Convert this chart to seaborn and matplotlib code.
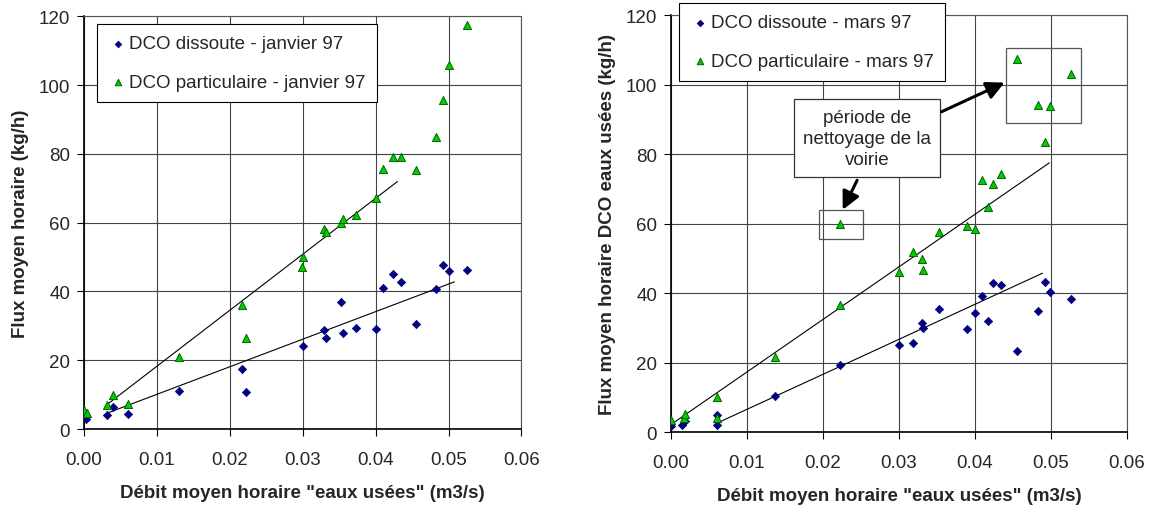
"""
Flux moyen horaire de DCO en fonction du debit "eaux usees" (janvier / mars 97).
"""

import matplotlib
matplotlib.use('Agg')

import matplotlib.pyplot as plt
import numpy as np
import seaborn as sns

# --- janvier 97 ---
jan_dis_x = [0.0000, 0.0003, 0.0031, 0.0040, 0.0061, 0.0130, 0.0217, 0.0222, 0.0300,
             0.0329, 0.0332, 0.0353, 0.0355, 0.0373, 0.0400, 0.0410, 0.0424, 0.0435,
             0.0456, 0.0483, 0.0492, 0.0500, 0.0526]
jan_dis_y = [3.9, 2.9, 4.2, 6.3, 4.3, 11.1, 17.4, 10.8, 24.2,
             28.7, 26.6, 36.8, 28.0, 29.3, 29.2, 41.0, 45.0, 42.8,
             30.5, 40.8, 47.8, 45.9, 46.2]
jan_par_x = [0.0000, 0.0004, 0.0031, 0.0040, 0.0061, 0.0130, 0.0217, 0.0222, 0.0300,
             0.0299, 0.0329, 0.0332, 0.0353, 0.0355, 0.0373, 0.0400, 0.0410, 0.0424,
             0.0435, 0.0456, 0.0483, 0.0492, 0.0500, 0.0526]
jan_par_y = [5.5, 4.8, 7.0, 9.9, 7.3, 21.0, 36.0, 26.5, 49.9,
             47.1, 58.1, 57.4, 59.9, 61.2, 62.2, 67.1, 75.6, 79.2,
             79.2, 75.4, 85.0, 95.6, 105.8, 117.4]

# droites de tendance (pente, ordonnee, x debut, x fin)
jan_dis_fit = (801.0, 2.1, 0.0031, 0.0508)
jan_par_fit = (1627.0, 2.0, 0.0031, 0.0430)

# --- mars 97 ---
mar_dis_x = [0.0000, 0.0015, 0.0018, 0.0060, 0.0060, 0.0137, 0.0222, 0.0300, 0.0318,
             0.0330, 0.0332, 0.0353, 0.0390, 0.0400, 0.0409, 0.0417, 0.0424, 0.0435,
             0.0456, 0.0483, 0.0492, 0.0499, 0.0526]
mar_dis_y = [1.9, 2.1, 3.2, 5.0, 2.0, 10.4, 19.4, 25.0, 25.7,
             31.3, 30.0, 35.5, 29.8, 34.4, 39.3, 32.1, 42.8, 42.3,
             23.4, 35.0, 43.1, 40.2, 38.4]
mar_par_x = [0.0000, 0.0017, 0.0018, 0.0060, 0.0060, 0.0137, 0.0222, 0.0222, 0.0300,
             0.0318, 0.0330, 0.0332, 0.0353, 0.0390, 0.0400, 0.0409, 0.0417, 0.0424,
             0.0435, 0.0456, 0.0483, 0.0492, 0.0499, 0.0526]
mar_par_y = [3.5, 4.1, 5.3, 10.1, 4.0, 21.6, 36.5, 59.8, 46.0,
             51.8, 49.7, 46.8, 57.7, 59.3, 58.5, 72.7, 64.7, 71.3,
             74.4, 107.3, 94.1, 83.5, 93.8, 103.2]

mar_dis_fit = (1007.0, -3.5, 0.0060, 0.0489)
mar_par_fit = (1512.0, 2.2, 0.0000, 0.0498)

x_ticks = [0.00, 0.01, 0.02, 0.03, 0.04, 0.05, 0.06]
y_ticks = [0, 20, 40, 60, 80, 100, 120]

BLUE = '#000080'
GREEN = '#00CC00'
GREEN_EDGE = '#006400'
FS = 13.5

sns.set_theme(style='white')
plt.rcParams['font.family'] = ['Liberation Sans', 'DejaVu Sans']


def draw_panel(ax, dis_x, dis_y, par_x, par_y, dis_fit, par_fit, month, ylabel):
    sns.scatterplot(x=dis_x, y=dis_y, marker='D', s=18, color=BLUE, edgecolor=BLUE,
                    linewidth=0.5, ax=ax, zorder=4, label=f'DCO dissoute - {month} 97')
    sns.scatterplot(x=par_x, y=par_y, marker='^', s=34, color=GREEN, edgecolor=GREEN_EDGE,
                    linewidth=0.7, ax=ax, zorder=4, label=f'DCO particulaire - {month} 97')

    for slope, icpt, x0, x1 in (dis_fit, par_fit):
        xs = np.array([x0, x1])
        ax.plot(xs, slope * xs + icpt, color='black', lw=0.8, zorder=3)

    ax.set_xlim(0, 0.06)
    ax.set_ylim(0, 120)
    ax.set_xticks(x_ticks)
    ax.set_yticks(y_ticks)
    ax.set_xticklabels([f'{v:.2f}' for v in x_ticks], fontsize=FS)
    ax.set_yticklabels([str(v) for v in y_ticks], fontsize=FS)
    ax.grid(True, color='#444444', lw=0.8)
    ax.set_axisbelow(True)
    ax.tick_params(direction='out', length=5, width=0.8, color='black',
                   bottom=True, left=True)
    ax.tick_params(axis='x', pad=11)
    ax.tick_params(axis='y', pad=5)
    for side in ('top', 'right'):
        ax.spines[side].set_color('#555555')
        ax.spines[side].set_linewidth(0.8)
    for side in ('left', 'bottom'):
        ax.spines[side].set_color('black')
        ax.spines[side].set_linewidth(1.2)
    ax.set_xlabel('Débit moyen horaire "eaux usées" (m3/s)', fontsize=FS,
                  fontweight='bold', labelpad=11)
    ax.set_ylabel(ylabel, fontsize=FS, fontweight='bold', labelpad=7)


fig = plt.figure(figsize=(11.51, 5.06), dpi=100)
ax1 = fig.add_axes([0.073, 0.150, 0.380, 0.816])
ax2 = fig.add_axes([0.583, 0.144, 0.396, 0.824])

draw_panel(ax1, jan_dis_x, jan_dis_y, jan_par_x, jan_par_y, jan_dis_fit, jan_par_fit,
           'janvier', 'Flux moyen horaire (kg/h)')
draw_panel(ax2, mar_dis_x, mar_dis_y, mar_par_x, mar_par_y, mar_dis_fit, mar_par_fit,
           'mars', 'Flux moyen horaire DCO eaux usées (kg/h)')

for ax, anchor in ((ax1, (0.030, 0.981)), (ax2, (0.018, 1.029))):
    leg = ax.legend(loc='upper left', bbox_to_anchor=anchor, borderaxespad=0,
                    fontsize=FS, fancybox=False, framealpha=1, edgecolor='black',
                    labelspacing=1.15, handletextpad=0.1, handlelength=1.0,
                    borderpad=0.6, markerscale=0.8)
    leg.get_frame().set_linewidth(0.8)
    leg.set_zorder(10)

# annotations (mars 97)
ax2.add_patch(plt.Rectangle((0.01945, 55.7), 0.0058, 8.2, fill=False,
                            edgecolor='#555555', lw=0.9, zorder=5))
ax2.add_patch(plt.Rectangle((0.04415, 89.0), 0.0098, 21.6, fill=False,
                            edgecolor='#555555', lw=0.9, zorder=5))
ax2.text(0.0258, 84.6, 'période de\nnettoyage de la\nvoirie', ha='center', va='center',
         fontsize=FS, linespacing=1.3, zorder=8,
         bbox=dict(boxstyle='square,pad=0.5', facecolor='white', edgecolor='#333333', lw=0.9))
arrow = dict(arrowstyle='-|>,head_length=0.9,head_width=0.45', color='black', lw=2.2,
             shrinkA=0, shrinkB=0)
ax2.annotate('', xy=(0.0226, 64.0), xytext=(0.0245, 72.5), arrowprops=arrow, zorder=8)
ax2.annotate('', xy=(0.0439, 100.6), xytext=(0.0356, 92.2), arrowprops=arrow, zorder=8)

fig.savefig('out.png', dpi=100)
plt.close(fig)
